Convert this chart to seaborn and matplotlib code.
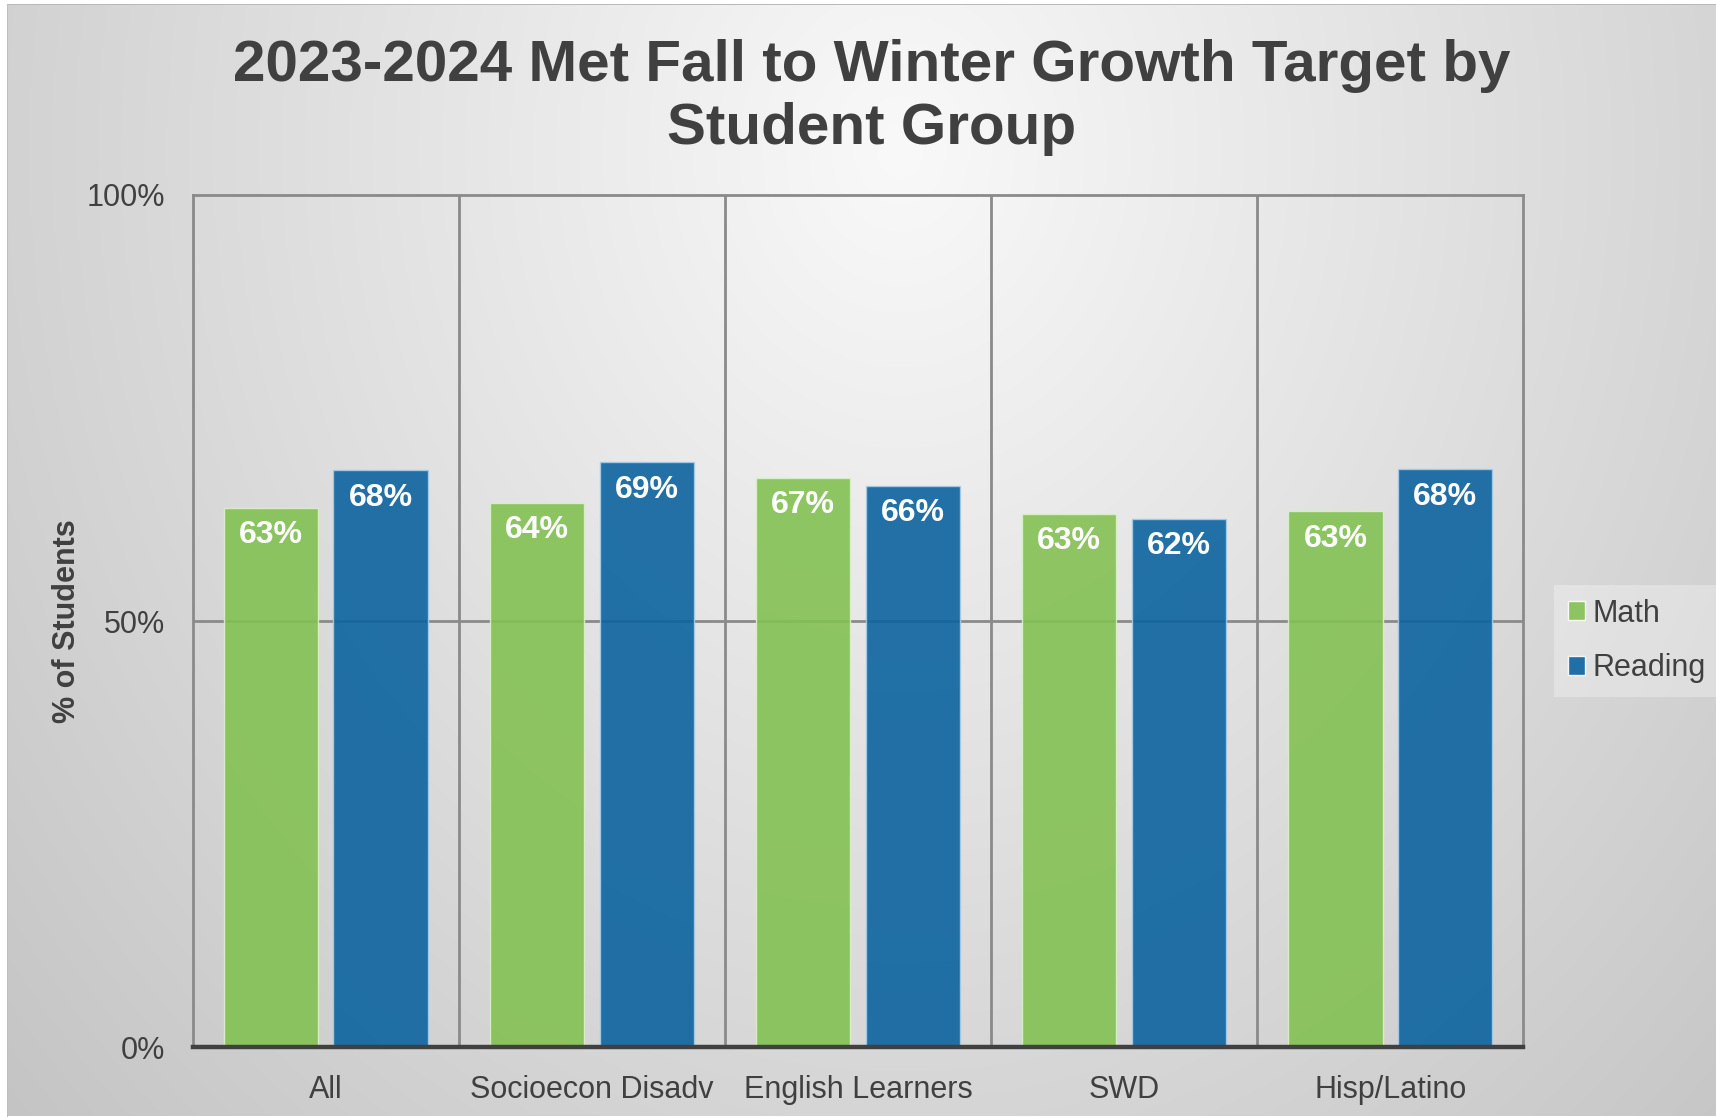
import matplotlib
matplotlib.use("Agg")
import matplotlib.pyplot as plt
import numpy as np
import pandas as pd
import seaborn as sns

# values (percent of students)
groups = ["All", "Socioecon Disadv", "English Learners", "SWD", "Hisp/Latino"]
math_pct = [63.3, 63.9, 66.8, 62.6, 62.9]
reading_pct = [67.7, 68.6, 65.9, 62.0, 67.8]
subjects = ["Math", "Reading"]

TEXT = "#404040"
GRID = "#8a8a8a"
COLORS = {"Math": "#84c154", "Reading": "#0c639f"}
EDGES = {"Math": "#dcefcc", "Reading": "#a8cbe6"}

W, H = 1716, 1117

sns.set_theme(style="white")
plt.rcParams["font.family"] = ["Liberation Sans", "DejaVu Sans"]

df = pd.DataFrame({
    "group": groups * 2,
    "subject": ["Math"] * len(groups) + ["Reading"] * len(groups),
    "pct": math_pct + reading_pct,
})

fig = plt.figure(figsize=(W / 100, H / 100), dpi=100)

# soft grey radial background like the office chart area
yy, xx = np.mgrid[0:H, 0:W]
r = np.sqrt(((xx - 900) / 1100.0) ** 2 + ((yy - 150) / 1300.0) ** 2)
bg = np.clip(249 - 48 * r, 150, 255)
bg[:5, :] = 255
bg[:, :7] = 255
bg[-1:, :] = 255
bg[4, 7:] = 185
bg[4:, 7] = 190
bg_ax = fig.add_axes([0, 0, 1, 1], zorder=-10)
bg_ax.imshow(np.dstack([bg, bg, bg]).astype(np.uint8), aspect="auto",
             interpolation="bilinear")
bg_ax.axis("off")

ax = fig.add_axes([192.6 / W, 1 - 1047.3 / H, 1330.8 / W, 852.5 / H])
ax.set_facecolor("none")

sns.barplot(data=df, x="group", y="pct", hue="subject", hue_order=subjects,
            palette=COLORS, saturation=1, width=0.824, gap=0.14, alpha=0.9,
            ax=ax, zorder=3)

for cont, subj in zip(ax.containers, subjects):
    for bar in cont:
        bar.set_edgecolor(EDGES[subj])
        bar.set_linewidth(1.0)
        h = bar.get_height()
        ax.annotate(f"{h:.0f}%", (bar.get_x() + bar.get_width() / 2, h),
                    xytext=(0, -9), textcoords="offset points",
                    ha="center", va="top", color="white",
                    fontsize=23, fontweight="bold", zorder=5)

ax.set_xlim(-0.5, len(groups) - 0.5)
ax.set_ylim(0, 100)
ax.set_yticks([0, 50, 100])
ax.set_yticklabels(["0%", "50%", "100%"])
for xb in np.arange(0.5, len(groups) - 0.5, 1):
    ax.axvline(xb, color=GRID, lw=2, zorder=1)
ax.axhline(50, color=GRID, lw=2, zorder=1)

for s in ["left", "right", "top"]:
    ax.spines[s].set_color(GRID)
    ax.spines[s].set_linewidth(2)
ax.spines["bottom"].set_color(TEXT)
ax.spines["bottom"].set_linewidth(3.2)
ax.spines["bottom"].set_zorder(6)

ax.tick_params(axis="both", length=0, labelsize=22, labelcolor=TEXT)
ax.tick_params(axis="x", pad=20)
ax.tick_params(axis="y", pad=20)
ax.set_xlabel("")
ax.set_ylabel("% of Students", fontsize=22, fontweight="bold", color=TEXT)
ax.yaxis.set_label_coords(-0.083, 0.5)

fig.text(872 / W, 1 - 97.5 / H,
         "2023-2024 Met Fall to Winter Growth Target by\nStudent Group",
         ha="center", va="center", fontsize=42, fontweight="bold",
         color=TEXT, linespacing=1.22)

sns.move_legend(ax, loc="upper left", bbox_to_anchor=(1554 / W, 1 - 585 / H),
                bbox_transform=fig.transFigure, title=None, frameon=True,
                fontsize=22, handlelength=0.58, handleheight=0.58,
                handletextpad=0.22, labelspacing=0.8, borderpad=0.45,
                borderaxespad=0)
leg = ax.get_legend()
leg.get_frame().set_facecolor("white")
leg.get_frame().set_alpha(0.3)
leg.get_frame().set_edgecolor("none")
leg.get_frame().set_boxstyle("square", pad=0)
for t in leg.get_texts():
    t.set_color(TEXT)

fig.savefig("out.png", dpi=100)
